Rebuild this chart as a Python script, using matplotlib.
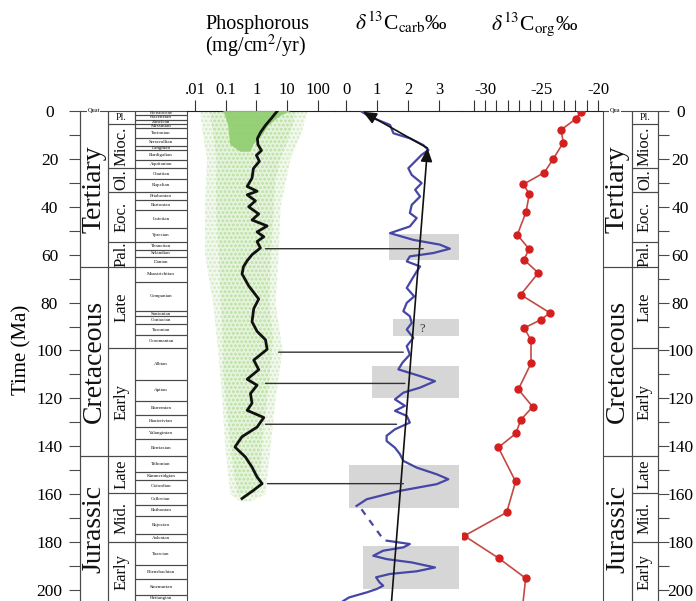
import matplotlib
matplotlib.use('Agg')
import matplotlib.pyplot as plt
import matplotlib.transforms as mtransforms
from matplotlib.patches import Rectangle, ConnectionPatch
from matplotlib.ticker import NullLocator, FixedLocator

plt.rcParams['font.family'] = ['Liberation Serif', 'DejaVu Serif']
plt.rcParams['mathtext.fontset'] = 'stix'
plt.rcParams['hatch.linewidth'] = 1.3

# ---------------- data ----------------
AGE_MAX = 204.6

period_names = ['Tertiary', 'Cretaceous', 'Jurassic']
period_top = [0.0, 65.0, 144.2]
period_base = [65.0, 144.2, 205.7]

epoch_names = ['Pl.', 'Mioc.', 'Ol.', 'Eoc.', 'Pal.', 'Late', 'Early', 'Late', 'Mid.', 'Early']
epoch_top = [0.0, 5.3, 23.8, 33.7, 54.8, 65.0, 98.9, 144.2, 159.4, 180.1]
epoch_base = [5.3, 23.8, 33.7, 54.8, 65.0, 98.9, 144.2, 159.4, 180.1, 205.7]

stage_names = ['Pleistocene', 'Piacenzian', 'Zanclean', 'Messinian', 'Tortonian',
               'Serravallian', 'Langhian', 'Burdigalian', 'Aquitanian', 'Chattian',
               'Rupelian', 'Priabonian', 'Bartonian', 'Lutetian', 'Ypresian',
               'Thanetian', 'Selandian', 'Danian', 'Maastrichtian', 'Campanian',
               'Santonian', 'Coniacian', 'Turonian', 'Cenomanian', 'Albian', 'Aptian',
               'Barremian', 'Hauterivian', 'Valanginian', 'Berriasian', 'Tithonian',
               'Kimmeridgian', 'Oxfordian', 'Callovian', 'Bathonian', 'Bajocian',
               'Aalenian', 'Toarcian', 'Pliensbachian', 'Sinemurian', 'Hettangian']
stage_top = [0.0, 1.8, 3.6, 5.3, 7.1, 11.2, 14.8, 16.4, 20.5, 23.8, 28.5, 33.7, 37.0,
             41.3, 49.0, 54.8, 57.9, 61.0, 65.0, 71.3, 83.5, 85.8, 89.0, 93.5, 98.9,
             112.2, 121.0, 127.0, 132.0, 137.0, 144.2, 150.7, 154.1, 159.4, 164.4,
             169.2, 176.5, 180.1, 189.6, 195.3, 201.9]
stage_base = stage_top[1:] + [205.7]

time_ticks = list(range(0, 201, 20))
time_minor = list(range(10, 201, 20))

# phosphorus accumulation (mg/cm2/yr) smoothed curve
p_age = [0, 3, 6, 9, 11.5, 14, 16.5, 18.5, 21, 24, 28, 31.5, 33.5, 35, 37.5, 40, 43,
         45.5, 48, 50.5, 52.5, 54.5, 57.2, 60, 62.5, 65, 68, 73, 78.5, 82.5, 88, 92,
         95.5, 99.5, 104, 108, 112, 114.5, 118, 122, 125, 128, 132, 136, 140.3,
         144.5, 148.7, 152.8, 155.6, 158.3, 161.8]
p_val = [4.8, 3.1, 1.97, 1.35, 1.08, 1.12, 1.46, 1.0, 1.25, 0.80, 0.72, 0.50, 1.05,
         0.50, 0.93, 0.56, 1.19, 0.72, 2.24, 1.05, 1.74, 1.05, 1.35, 0.72, 0.50, 0.38,
         0.34, 0.56, 1.19, 0.82, 0.72, 1.05, 1.97, 2.24, 0.82, 1.19, 0.50, 1.05, 0.64,
         0.72, 0.50, 1.74, 1.05, 0.34, 0.20, 0.44, 0.72, 1.05, 1.54, 0.82, 0.34]

# phosphorus data cloud envelopes
cloud_age = [0, 10, 20, 40, 60, 80, 100, 120, 140, 160, 163]
cloud_lo = [0.0146, 0.0183, 0.0247, 0.0213, 0.0213, 0.0389, 0.0568, 0.0767, 0.0964, 0.141, 0.299]
cloud_hi = [47, 27.7, 13.0, 6.1, 5.3, 4.2, 7.1, 4.2, 2.9, 1.97, 0.64]
mid_age = [0, 10, 20, 30, 45, 60, 80, 95, 105, 115, 125, 135, 150, 160]
mid_lo = [0.03, 0.04, 0.05, 0.05, 0.05, 0.06, 0.07, 0.08, 0.08, 0.09, 0.11, 0.13, 0.18, 0.25]
mid_hi = [20, 12, 6.0, 4.0, 3.5, 3.0, 2.6, 3.5, 3.0, 2.5, 2.0, 1.6, 1.4, 1.0]
dense_age = [0, 2, 6, 10, 14, 17]
dense_lo = [0.083, 0.096, 0.12, 0.13, 0.14, 0.30]
dense_hi = [13, 6.1, 2.5, 1.57, 0.8, 0.64]

# d13C carbonate
c_age = [0.3, 2.4, 5.8, 9.3, 11.4, 14.2, 16.3, 18.3, 20.4, 23.9, 26.7, 30.1, 32.9,
         35.7, 39.2, 42.6, 44.7, 48.2, 51.0, 53.8, 55.8, 57.5, 59.3, 60.7, 62.8, 64.9,
         67.0, 70.4, 73.9, 77.4, 80.1, 83.6, 85.7, 88.5, 91.25, 94.7, 98.2, 101.7,
         105.1, 107.9, 110.7, 112.8, 115.5, 117.6, 120.4, 123.1, 125.2, 127.3, 130.1,
         132.9, 135.6, 137.8, 140.6, 143.3, 146.1, 148.9, 151.7, 153.75, 155.8, 158.6,
         162.1, 164.9]
c_val = [0.51, 0.77, 1.42, 1.53, 2.06, 2.49, 2.66, 2.44, 2.28, 2.01, 2.12, 2.44, 2.23,
         2.39, 2.12, 2.06, 2.28, 2.06, 1.42, 2.17, 3.03, 3.35, 2.82, 2.06, 1.96, 2.39,
         2.28, 2.12, 1.96, 2.20, 1.96, 1.85, 2.06, 2.12, 1.96, 2.17, 1.96, 2.06,
         1.82, 1.69, 2.39, 2.87, 2.39, 1.85, 1.58, 1.90, 1.58, 1.96, 2.06,
         1.58, 1.31, 1.31, 1.58, 1.74, 1.85, 2.28, 2.93, 3.30, 2.93, 1.74,
         0.67, 0.34]
c2_age = [179.4, 180.1, 180.8, 182.2, 183.6, 185.7, 187.1, 188.5, 190.6, 192.2, 193.3,
          194.7, 196.8, 198.2, 199.6, 201.0, 203.1, 204.6]
c2_val = [1.31, 1.68, 2.06, 1.85, 1.20, 0.88, 1.31, 2.12, 2.87, 2.28, 1.42,
          0.97, 1.08, 1.20, 0.99, 0.67, 0.10, -0.09]
gap_age = [166.3, 178.8]
gap_val = [0.50, 1.20]

# long-term trend (arrows)
trend_age = [204.6, 15.5, 0.3]
trend_val = [1.47, 2.63, 0.55]

# shaded intervals
box_top = [51.4, 86.7, 106.5, 147.8, 181.8]
box_base = [62.1, 94.0, 120.0, 165.8, 199.6]
box_left = [1.40, 1.53, 0.83, 0.11, 0.56]
box_right = [3.65, 3.65, 3.65, 3.65, 3.65]
q_age, q_val = 91.0, 2.44

# phosphorus maxima linked to carbon isotope
link_age = [57.5, 100.7, 113.75, 130.8, 155.6]
link_p = [1.97, 5.3, 1.97, 1.97, 2.3]
link_c = [2.49, 1.85, 1.90, 1.63, 1.85]

# d13C organic
o_age = [0.5, 3.3, 7.9, 13.2, 20.0, 25.7, 30.6, 34.7, 42.2, 51.7, 57.6, 62.1, 67.6,
         76.7, 84.3, 87.1, 90.6, 95.7, 105.4, 116.25, 123.5, 129.0, 134.6, 140.5,
         154.7, 167.6, 177.4, 186.8, 195.1, 208.0]
o_val = [-21.53, -21.97, -23.27, -23.07, -23.96, -24.75, -26.6, -26.08, -26.37, -27.14,
         -26.1, -26.55, -25.28, -26.84, -24.25, -25.04, -26.52, -25.93, -25.93, -27.05,
         -25.78, -26.84, -27.26, -28.82, -27.29, -28.08, -31.83, -28.76, -26.4, -26.7]

# ---------------- layout ----------------
W, H = 696, 601
fig = plt.figure(figsize=(W / 100, H / 100), dpi=100)


def rect(x0, x1, y0=111, y1=601):
    return [x0 / W, 1 - y1 / H, (x1 - x0) / W, (y1 - y0) / H]


ax_ts = fig.add_axes(rect(80, 187))
ax_p = fig.add_axes(rect(187, 335))
ax_c = fig.add_axes(rect(335, 462))
ax_o = fig.add_axes(rect(462, 603))
ax_tr = fig.add_axes(rect(603, 658))

EDGE = '#4a4a4a'
for ax in (ax_ts, ax_p, ax_c, ax_o, ax_tr):
    ax.set_ylim(AGE_MAX, 0)
    ax.patch.set_alpha(0)
    for s in ax.spines.values():
        s.set_visible(False)
    ax.set_xticks([])
    ax.set_yticks([])


def draw_col(ax, x0, x1, tops, bases, names, fs, rot):
    trans = mtransforms.blended_transform_factory(ax.transAxes, ax.transData)
    for t, b, n in zip(tops, bases, names):
        ax.add_patch(Rectangle((x0, t), x1 - x0, b - t, transform=trans,
                               facecolor='none', edgecolor=EDGE, lw=0.8, clip_on=False))
        yc = (t + min(b, AGE_MAX)) / 2
        r = rot
        f = fs
        if n == 'Pl.':
            r, f = 0, 7
        ax.text((x0 + x1) / 2, yc, n, transform=trans, ha='center', va='center',
                rotation=r, fontsize=f, color='#111')


# left time scale
draw_col(ax_ts, 0, 0.262, period_top, period_base, period_names, 20, 90)
draw_col(ax_ts, 0.262, 0.514, epoch_top, epoch_base, epoch_names, 12, 90)
draw_col(ax_ts, 0.514, 1.0, stage_top, stage_base, stage_names, 3.6, 0)
tl = mtransforms.blended_transform_factory(ax_ts.transAxes, ax_ts.transData)
ax_ts.text(0.07, 0, 'Quat', transform=tl, fontsize=4.5, ha='left', va='center',
           bbox=dict(facecolor='white', edgecolor='none', pad=0.3))

# right time scale
draw_col(ax_tr, 0, 0.527, period_top, period_base, period_names, 20, 90)
draw_col(ax_tr, 0.527, 1.0, epoch_top, epoch_base, epoch_names, 12, 90)
tr = mtransforms.blended_transform_factory(ax_tr.transAxes, ax_tr.transData)
ax_tr.text(0.12, 0, 'Qua', transform=tr, fontsize=4.5, ha='left', va='center',
           bbox=dict(facecolor='white', edgecolor='none', pad=0.3))

# time axes
ax_ts.spines['left'].set_visible(True)
ax_ts.spines['left'].set_color(EDGE)
ax_ts.set_yticks(time_ticks)
ax_ts.set_yticks(time_minor, minor=True)
ax_ts.tick_params(axis='y', which='both', direction='out', length=8, width=0.8,
                  color=EDGE, labelsize=12.5, pad=14)
for lab in ax_ts.get_yticklabels():
    lab.set_ha('center')

ax_tr.spines['right'].set_visible(True)
ax_tr.spines['right'].set_color(EDGE)
ax_tr.yaxis.tick_right()
ax_tr.set_yticks(time_ticks)
ax_tr.set_yticks(time_minor, minor=True)
ax_tr.tick_params(axis='y', which='both', direction='out', length=8, width=0.8,
                  color=EDGE, labelsize=12.5, pad=8)
for lab in ax_tr.get_yticklabels():
    lab.set_ha('center')

# phosphorus panel
ax_p.set_xscale('log')
ax_p.set_xlim(0.00549, 363)
ax_p.fill_betweenx(cloud_age, cloud_lo, cloud_hi, facecolor='#f3f9ef', edgecolor='none', zorder=1)
ax_p.fill_betweenx(cloud_age, cloud_lo, cloud_hi, facecolor='none', edgecolor='#d2eac2',
                   hatch='....', linewidth=0, zorder=1)
ax_p.fill_betweenx(mid_age, mid_lo, mid_hi, facecolor='none', edgecolor='#b0dc95',
                   hatch='....', linewidth=0, zorder=2)
ax_p.fill_betweenx(mid_age, mid_lo, mid_hi, facecolor='#d4ebc4', alpha=0.4,
                   edgecolor='none', zorder=2)
ax_p.fill_betweenx(dense_age, dense_lo, dense_hi, facecolor='#8fcd6e', edgecolor='none',
                   alpha=0.9, zorder=3)
ax_p.plot(p_val, p_age, color='#111', lw=2.0, zorder=5, solid_joinstyle='round')
ax_p.xaxis.tick_top()
ax_p.set_xticks([0.01, 0.1, 1, 10, 100])
ax_p.set_xticklabels(['.01', '0.1', '1', '10', '100'])
ax_p.xaxis.set_minor_locator(NullLocator())

# carbonate panel
ax_c.set_xlim(-0.355, 3.742)
ax_c.barh([(t + b) / 2 for t, b in zip(box_top, box_base)],
          [r - l for l, r in zip(box_left, box_right)],
          height=[b - t for t, b in zip(box_top, box_base)],
          left=box_left, color='#d6d6d6', zorder=1)
ax_c.text(q_val, q_age, '?', fontsize=9, ha='center', va='center', color='#333', zorder=2)
ax_c.plot(c_val, c_age, color='#4646a6', lw=1.6, zorder=3, solid_joinstyle='round')
ax_c.plot(c2_val, c2_age, color='#4646a6', lw=1.6, zorder=3, solid_joinstyle='round')
ax_c.plot(gap_val, gap_age, color='#4646a6', lw=1.6, ls=(0, (3, 3)), zorder=3)
for i in range(2):
    ax_c.annotate('', xy=(trend_val[i + 1], trend_age[i + 1]),
                  xytext=(trend_val[i], trend_age[i]),
                  arrowprops=dict(arrowstyle='-|>,head_length=0.8,head_width=0.35',
                                  color='#111', lw=1.2, shrinkA=0, shrinkB=0),
                  zorder=4, annotation_clip=False)
ax_c.xaxis.tick_top()
ax_c.set_xticks([0, 1, 2, 3])

# organic panel
ax_o.set_xlim(-32.035, -19.557)
ax_o.plot(o_val, o_age, color='#c24a44', lw=1.2, marker='o', ms=5,
          mfc='#d41f1f', mec='#d41f1f', zorder=3)
ax_o.xaxis.tick_top()
ax_o.set_xticks([-30, -25, -20])
ax_o.set_xticklabels(['-30', '-25', '-20'])
ax_o.xaxis.set_minor_locator(FixedLocator([v for v in range(-31, -20) if v not in (-30, -25)]))

for ax in (ax_p, ax_c, ax_o):
    ax.spines['top'].set_visible(True)
    ax.spines['top'].set_color('#222')
    ax.tick_params(axis='x', which='both', direction='out', length=8, width=0.8,
                   color='#333', labelsize=12, pad=1)

# links between phosphorus maxima and carbon isotope curve
for a, p, c in zip(link_age, link_p, link_c):
    con = ConnectionPatch(xyA=(p, a), coordsA=ax_p.transData,
                          xyB=(c, a), coordsB=ax_c.transData,
                          color='#333', lw=1.0)
    fig.add_artist(con)

# headers
fig.text(205 / W, 1 - 29 / H, 'Phosphorous', fontsize=14.5, ha='left', va='baseline')
fig.text(205 / W, 1 - 52 / H, '(mg/cm$^{2}$/yr)', fontsize=14.5, ha='left', va='baseline')
fig.text(401 / W, 1 - 30 / H, r'$\delta^{13}$C$_{\mathrm{carb}}$‰', fontsize=15.5,
         ha='center', va='baseline')
fig.text(535 / W, 1 - 30 / H, r'$\delta^{13}$C$_{\mathrm{org}}$‰', fontsize=15.5,
         ha='center', va='baseline')
fig.text(22 / W, 1 - 350 / H, 'Time (Ma)', fontsize=15, rotation=90,
         ha='center', va='center')

fig.savefig('out.png', dpi=100)
